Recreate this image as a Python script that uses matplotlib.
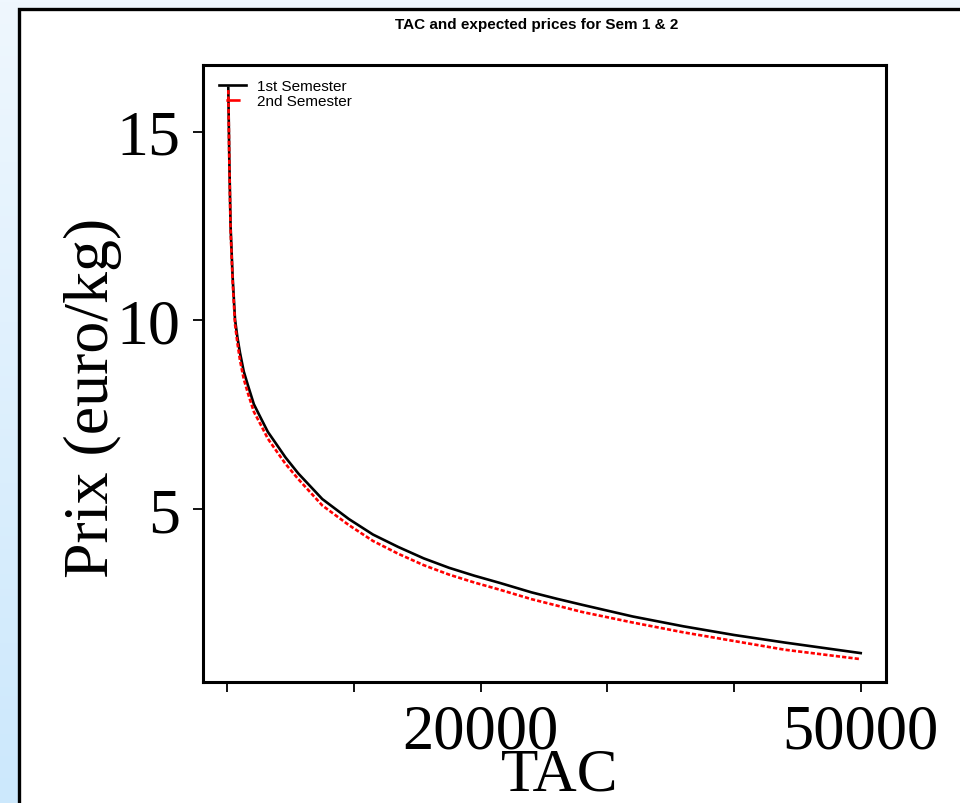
import numpy as np
import matplotlib
matplotlib.use("Agg")
import matplotlib.pyplot as plt
from matplotlib.lines import Line2D
from matplotlib.patches import Rectangle

# Values
tac = [80, 160, 260, 420, 610, 800, 1000, 1300, 1650, 2100, 2700, 3200, 3800,
       4600, 5600, 7500, 9600, 11500, 13500, 15500, 17500, 19500, 21500,
       24000, 26000, 28000, 32000, 36000, 40000, 44000, 50000]
price_sem1 = [16.16, 14.26, 12.5, 11.17, 10.03, 9.55, 9.15, 8.65, 8.26, 7.78,
              7.38, 7.05, 6.76, 6.37, 5.95, 5.27, 4.74, 4.33, 4.0, 3.70, 3.45,
              3.24, 3.05, 2.80, 2.63, 2.47, 2.16, 1.90, 1.67, 1.47, 1.19]
price_sem2 = [16.1, 14.2, 12.4, 11.05, 9.9, 9.4, 8.95, 8.45, 8.05, 7.58,
              7.2, 6.87, 6.58, 6.2, 5.8, 5.1, 4.58, 4.16, 3.82, 3.52, 3.27,
              3.06, 2.87, 2.62, 2.45, 2.28, 2.00, 1.74, 1.51, 1.28, 1.03]

x_ticks = [0, 10000, 20000, 30000, 40000, 50000]
x_ticklabels = ["", "", "20000", "", "", "50000"]
y_ticks = [5, 10, 15]
labels = ["1st Semester", "2nd Semester"]

W, H = 960, 804
fig = plt.figure(figsize=(W / 100, H / 100), dpi=100)

# light blue slide background with a white panel on top
bg = fig.add_axes([0, 0, 1, 1])
grad = np.linspace(0, 1, 256)[:, None]
top_col = np.array([239, 247, 254]) / 255
bot_col = np.array([204, 232, 252]) / 255
img = top_col + grad[..., None] * (bot_col - top_col)
bg.imshow(img, extent=[0, W, H, 0], aspect="auto")
bg.add_patch(Rectangle((18.5, 9.5), 1000, 900, facecolor="white",
                       edgecolor="black", lw=2.4))
bg.set_xlim(0, W)
bg.set_ylim(H, 0)
bg.axis("off")

ax = fig.add_axes([203 / W, 1 - 683 / H, 683 / W, 617 / H])
ax.plot(tac, price_sem1, color="black", lw=1.9)
ax.plot(tac, price_sem2, color="red", lw=1.9, dashes=[1.6, 0.8])

span_x = tac[-1] - tac[0]
ax.set_xlim(tac[0] - 0.04 * span_x, tac[-1] + 0.04 * span_x)
lo = min(price_sem2)
hi = max(price_sem1)
ax.set_ylim(lo - 0.04 * (hi - lo), hi + 0.04 * (hi - lo))

serif = "Liberation Serif"
ax.set_xticks(x_ticks)
ax.set_xticklabels(x_ticklabels, family=serif, fontsize=45)
ax.set_yticks(y_ticks)
ax.set_yticklabels([str(v) for v in y_ticks], family=serif, fontsize=46)
ax.tick_params(axis="both", length=7.5, width=1.3, direction="out", color="black")
ax.tick_params(axis="x", pad=8)
ax.tick_params(axis="y", pad=9)
for s in ax.spines.values():
    s.set_linewidth(2.2)

ax.set_xlabel("TAC", family=serif, fontsize=44)
ax.xaxis.set_label_coords((560 - 203) / 683, (683 - 748) / 617)
ax.set_ylabel("Prix (euro/kg)", family=serif, fontsize=46)
ax.yaxis.set_label_coords((122 - 203) / 683, (683 - 398) / 617)

h1 = Line2D([], [], color="black", lw=1.9)
h2 = Line2D([], [], color="red", lw=1.9, linestyle=(7.5, (5.4, 4.7)))
ax.legend([h1, h2], labels, loc="upper left", frameon=False,
          prop={"family": "Liberation Sans", "size": 11},
          handlelength=1.75, handletextpad=0.75, labelspacing=0.05,
          borderaxespad=0, bbox_to_anchor=(10 / 683, 1 - 8 / 617))

fig.text(537 / W, 1 - 25 / H, "TAC and expected prices for Sem 1 & 2",
         ha="center", va="center", fontsize=11, fontweight="bold",
         family="Liberation Sans")

fig.savefig("out.png", dpi=100)
